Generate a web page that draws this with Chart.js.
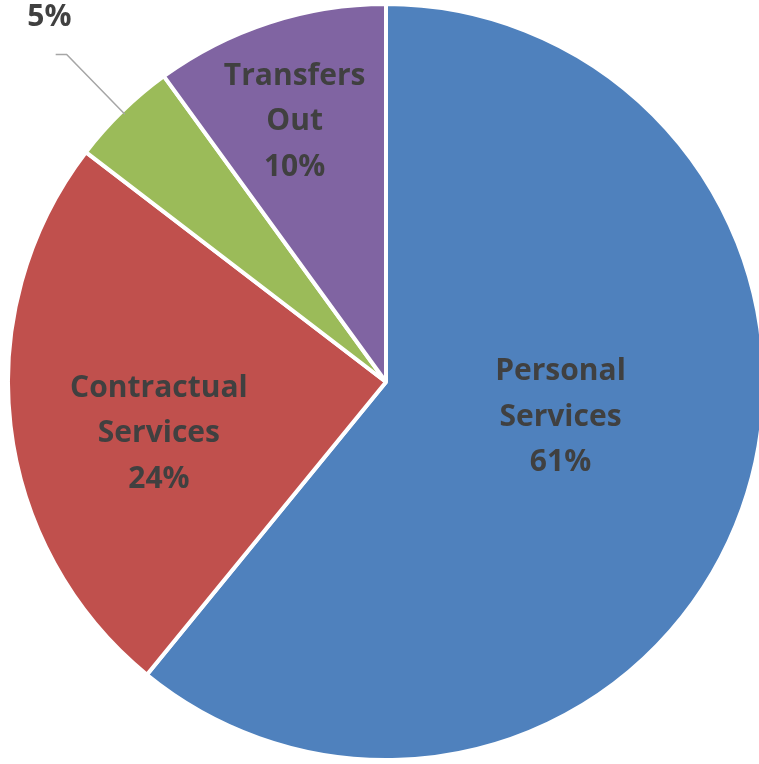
<!DOCTYPE html>
<html>
<head>
<meta charset="utf-8">
<title>Expenditures</title>
<script src="https://cdn.jsdelivr.net/npm/chart.js@4.4.1/dist/chart.umd.min.js"></script>
<style>
    html, body { margin: 0; padding: 0; background: #ffffff; overflow: hidden; }
    #pieChart { display: block; }
</style>
</head>
<body>
<canvas id="pieChart" width="762" height="764"></canvas>
<script>
// Ma'lumotlar
const categories = ['Personal Services', 'Contractual Services', 'Supplies', 'Transfers Out'];
const shares = [60.9, 24.5, 4.6, 10.0];
const pctLabels = ['61%', '24%', '5%', '10%'];
const labelLines = [['Personal', 'Services'], ['Contractual', 'Services'], [], ['Transfers', 'Out']];

// Ranglar
const sliceColors = ['#4F81BD', '#C0504D', '#9BBB59', '#8064A2'];

// Yorliq joylashuvi: [burchak siljishi (grad), radius ulushi]
const labelPlacement = [[-8.8, 0.47], [-5.7, 0.615], [1.7, 1.316], [-1.2, 0.735]];

/**
 * Bo'lak ichida yoki tashqarisida yorliqlarni chizish
 */
const sliceLabels = {
    id: 'sliceLabels',
    afterDatasetsDraw(chart) {
        const ctx = chart.ctx;
        const meta = chart.getDatasetMeta(0);
        ctx.save();
        ctx.font = 'bold 30px "Open Sans", Lato, sans-serif';
        ctx.fillStyle = '#404040';
        ctx.textAlign = 'center';
        ctx.textBaseline = 'middle';
        meta.data.forEach((arc, i) => {
            const p = arc.getProps(['x', 'y', 'startAngle', 'endAngle', 'outerRadius'], true);
            const mid = (p.startAngle + p.endAngle) / 2 + labelPlacement[i][0] * Math.PI / 180;
            const r = p.outerRadius * labelPlacement[i][1];
            const cx = p.x + Math.cos(mid) * r;
            const cy = p.y + Math.sin(mid) * r + 2;
            const lines = labelLines[i].concat([pctLabels[i]]);
            const lh = 45.5;
            const top = cy - (lines.length - 1) * lh / 2;
            lines.forEach((t, k) => ctx.fillText(t, cx, top + k * lh));

            // Tashqi yorliq uchun chiziq
            if (labelPlacement[i][1] > 1) {
                const a = (p.startAngle + p.endAngle) / 2;
                const x0 = p.x + Math.cos(a) * (p.outerRadius - 4);
                const y0 = p.y + Math.sin(a) * (p.outerRadius - 4);
                const x1 = p.x + Math.cos(a) * p.outerRadius * 1.21;
                const y1 = p.y + Math.sin(a) * p.outerRadius * 1.21;
                ctx.beginPath();
                ctx.strokeStyle = '#A6A6A6';
                ctx.lineWidth = 1.5;
                ctx.moveTo(x0, y0);
                ctx.lineTo(x1, y1);
                ctx.lineTo(x1 - 11, y1);
                ctx.stroke();
            }
        });
        ctx.restore();
    }
};

const pieChart = new Chart(document.getElementById('pieChart').getContext('2d'), {
    type: 'pie',
    data: {
        labels: categories,
        datasets: [{
            data: shares,
            backgroundColor: sliceColors,
            borderColor: '#ffffff',
            borderWidth: 4
        }]
    },
    options: {
        responsive: false,
        animation: false,
        radius: 378,
        layout: { padding: { left: 10, right: 0, top: 6, bottom: 6 } },
        plugins: {
            legend: { display: false },
            tooltip: { enabled: false }
        }
    },
    plugins: [sliceLabels]
});
</script>
</body>
</html>
